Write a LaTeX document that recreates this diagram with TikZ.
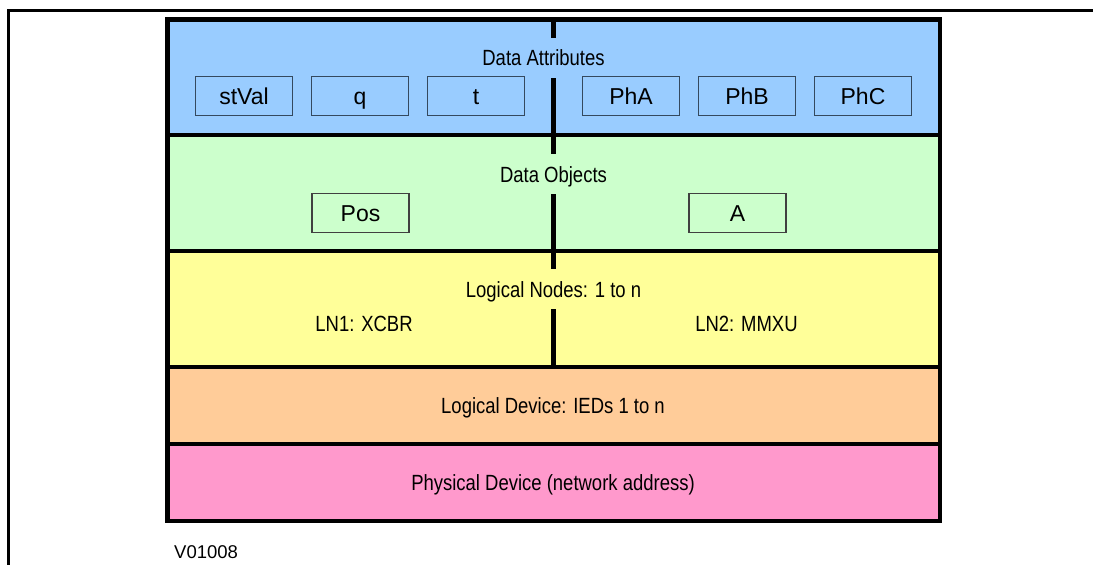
\documentclass[tikz,border=0pt]{standalone}
\usepackage{fontspec}
\setmainfont{Liberation Sans}
\newfontfamily\condfont[FakeStretch=0.84]{Liberation Sans}
\definecolor{lblue}{HTML}{99CCFF}
\definecolor{lgreen}{HTML}{CCFFCC}
\definecolor{lyellow}{HTML}{FFFF99}
\definecolor{lorange}{HTML}{FFCC99}
\definecolor{lpink}{HTML}{FF99CC}
\definecolor{boxline}{HTML}{34495E}
\begin{document}
\begin{tikzpicture}[x=1pt,y=-1pt,
  heavy/.style={line width=4.5pt},
  layertxt/.style={font=\condfont\fontsize{22}{24}\selectfont, text height=16pt, text depth=0pt, inner xsep=4pt, inner ysep=12pt},
  attbox/.style={draw=boxline, line width=1.1pt, minimum width=97pt, minimum height=39.5pt, inner sep=0pt, text height=16.5pt, text depth=0pt, font=\fontsize{23}{25}\selectfont}]
\useasboundingbox (0,0) rectangle (1093,565);
% outer frame
\draw[line width=2.7pt] (1093,10.7) -- (8.7,10.7) -- (8.7,565);
% layer fills
\fill[lblue]   (167.5,19.5) rectangle (940,135);
\fill[lgreen]  (167.5,135) rectangle (940,251);
\fill[lyellow] (167.5,251) rectangle (940,367);
\fill[lorange] (167.5,367) rectangle (940,444);
\fill[lpink]   (167.5,444) rectangle (940,521);
% middle divider
\coordinate (midtop) at (553.5,19.5);
\coordinate (midbot) at (553.5,367);
\draw[line width=4.5pt] (midtop) -- (midbot);
% layer labels
\node[layertxt, fill=lblue] (da) at (543.5,57.5) {Data Attributes};
\node[layertxt, fill=lgreen] (do) at (553.5,174) {Data Objects};
\node[layertxt, fill=lyellow] (ln) at (553.5,289) {Logical Nodes: 1 to n};
\node[layertxt] (ln1) at (364,323) {LN1: XCBR};
\node[layertxt] (ln2) at (746.5,323) {LN2: MMXU};
\node[layertxt] (ld) at (553,405) {Logical Device: IEDs 1 to n};
\node[layertxt] (pd) at (553,482) {Physical Device (network address)};
% dividers
\draw[heavy] (167.5,135) -- (940,135);
\draw[heavy] (167.5,251) -- (940,251);
\draw[heavy] (167.5,367) -- (940,367);
\draw[heavy] (167.5,444) -- (940,444);
% outer box
\draw[heavy] (167.5,19.5) rectangle (940,521);
% attribute boxes
\node[attbox] (stval) at (244,96) {stVal};
\node[attbox] (q) at (360,96) {q};
\node[attbox] (t) at (476,96) {t};
\node[attbox] (pha) at (631,96) {PhA};
\node[attbox] (phb) at (747,96) {PhB};
\node[attbox] (phc) at (863,96) {PhC};
% object boxes
\node[attbox, draw=black!75] (pos) at (360.5,213) {Pos};
\node[attbox, draw=black!75] (a) at (737.5,213) {A};
% version label
\node[font=\fontsize{18.5}{20}\selectfont, anchor=west, inner sep=0pt] (ver) at (174,552) {V01008};
\end{tikzpicture}
\end{document}
